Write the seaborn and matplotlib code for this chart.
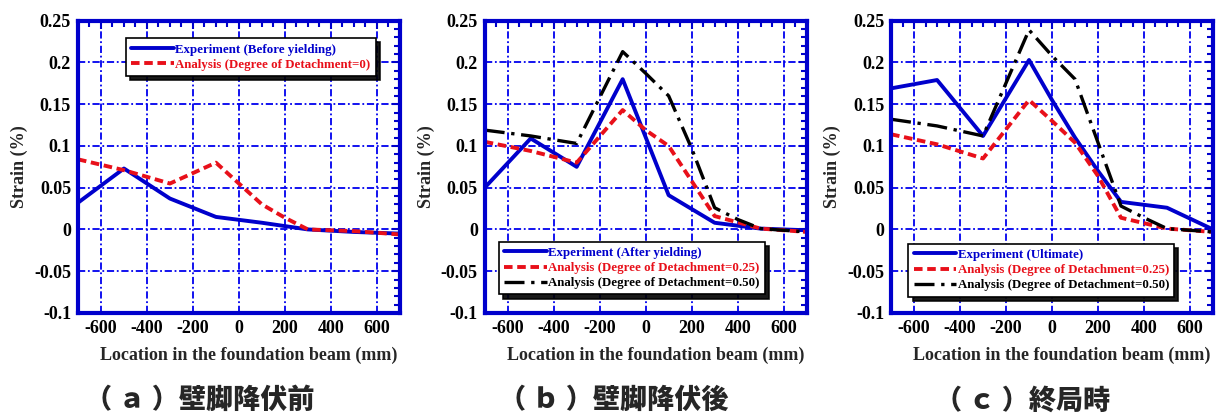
import numpy as np
import pandas as pd
import matplotlib
matplotlib.use("Agg")
import matplotlib.pyplot as plt
from matplotlib.ticker import MultipleLocator
import seaborn as sns

# dados
x_exp = [-700, -500, -300, -100, 100, 300, 500, 700]
x_ana = [-700, -500, -300, -100, 0, 100, 200, 300, 500, 700]
x_ana50 = [-700, -500, -300, -100, 0, 100, 200, 300, 400, 500, 700]

exp_a = [0.032, 0.073, 0.037, 0.015, 0.008, 0.0, -0.003, -0.005]
ana0_a = [0.084, 0.071, 0.055, 0.080, 0.055, 0.030, 0.014, 0.0, -0.002, -0.006]

exp_b = [0.050, 0.109, 0.075, 0.180, 0.041, 0.008, 0.001, -0.001]
ana25_b = [0.105, 0.094, 0.080, 0.143, 0.119, 0.100, 0.058, 0.016, 0.001, -0.003]
ana50_b = [0.119, 0.112, 0.103, 0.213, 0.187, 0.160, 0.097, 0.026, 0.012, 0.001, -0.003]

x_exp_c = [-700, -500, -300, -100, 0, 100, 200, 300, 500, 700]
exp_c = [0.169, 0.179, 0.112, 0.203, 0.155, 0.110, 0.070, 0.033, 0.026, 0.0]
ana25_c = [0.114, 0.102, 0.085, 0.155, 0.130, 0.104, 0.064, 0.014, 0.001, -0.003]
ana50_c = [0.132, 0.124, 0.112, 0.239, 0.208, 0.180, 0.104, 0.028, 0.014, 0.001, -0.003]

legendas_a = ['Experiment (Before yielding)', 'Analysis (Degree of Detachment=0)']
legendas_b = ['Experiment (After yielding)', 'Analysis (Degree of Detachment=0.25)',
              'Analysis (Degree of Detachment=0.50)']
legendas_c = ['Experiment (Ultimate)', 'Analysis (Degree of Detachment=0.25)',
              'Analysis (Degree of Detachment=0.50)']
titulos = ['（ ａ ）壁脚降伏前', '（ ｂ ）壁脚降伏後', '（ ｃ ）終局時']

sns.set_style("white")
plt.rcParams['font.family'] = ['Liberation Serif', 'DejaVu Serif']
plt.rcParams['font.weight'] = 'bold'
plt.rcParams['axes.unicode_minus'] = False

AZUL = '#0000CC'
VERMELHO = '#E8101A'

fig = plt.figure(figsize=(12.24, 4.15), dpi=100)
posicoes = [0.0637, 0.396, 0.728]
eixos = [fig.add_axes([l, 0.246, 0.263, 0.704]) for l in posicoes]

estilos = [
    dict(color=AZUL, linestyle='-', linewidth=2.8),
    dict(color=VERMELHO, linestyle=(0, (2.2, 1.2)), linewidth=2.8),
    dict(color='black', linestyle=(0, (6, 2, 1, 2)), linewidth=2.4),
]

series = [
    [(x_exp, exp_a), (x_ana, ana0_a)],
    [(x_exp, exp_b), (x_ana, ana25_b), (x_ana50, ana50_b)],
    [(x_exp_c, exp_c), (x_ana, ana25_c), (x_ana50, ana50_c)],
]
legendas = [legendas_a, legendas_b, legendas_c]
leg_pos = [('upper right', (0.945, 0.962)), ('lower left', (0.025, 0.041)),
           ('lower left', (0.034, 0.034))]
# centro das legendas inferiores (em pixels)
centros = [200, 614, 1023]

for i, ax in enumerate(eixos):
    for j, (xs, ys) in enumerate(series[i]):
        sns.lineplot(x=xs, y=ys, ax=ax, label=legendas[i][j], **estilos[j])
    ax.set_xlim(-700, 700)
    ax.set_ylim(-0.1, 0.25)
    ax.xaxis.set_major_locator(MultipleLocator(200))
    ax.xaxis.set_minor_locator(MultipleLocator(50))
    ax.yaxis.set_major_locator(MultipleLocator(0.05))
    ax.yaxis.set_minor_locator(MultipleLocator(0.01))
    ax.set_yticks(np.arange(-0.1, 0.26, 0.05))
    ax.set_yticklabels(['-0.1', '-0.05', '0', '0.05', '0.1', '0.15', '0.2', '0.25'])
    ax.grid(True, which='major', color='#0000EE', linestyle=(0, (4, 1.5, 1, 1.5)), linewidth=1.3)
    ax.tick_params(which='both', direction='in', top=True, right=True, colors=AZUL,
                   labelcolor='black', labelsize=13, pad=5)
    ax.tick_params(which='major', length=6, width=1.5)
    ax.tick_params(which='minor', length=4, width=1.5)
    for lab in ax.get_xticklabels() + ax.get_yticklabels():
        lab.set_fontweight('bold')
    for s in ax.spines.values():
        s.set_color(AZUL)
        s.set_linewidth(3)
        s.set_visible(True)
    ax.set_xlabel('Location in the foundation beam (mm)', fontsize=13, fontweight='bold')
    ax.set_ylabel('Strain (%)', fontsize=13, fontweight='bold')
    ax.xaxis.set_label_coords(0.53, -0.115)
    ax.yaxis.set_label_coords(-0.155, 0.5)

    loc, anc = leg_pos[i]
    leg = ax.legend(loc=loc, bbox_to_anchor=anc, frameon=True, fancybox=False,
                    shadow={'color': 'black', 'alpha': 0.9, 'ox': 3, 'oy': -3},
                    handlelength=3.3, handletextpad=0.1, borderpad=0.4, labelspacing=0.25,
                    prop={'weight': 'bold', 'size': 9.3})
    leg.get_frame().set_edgecolor('black')
    leg.get_frame().set_linewidth(1.2)
    for txt, st in zip(leg.get_texts(), estilos):
        txt.set_color(st['color'])

    fig.text(centros[i] / 1224, 0.036, titulos[i],
             ha='center', va='center', fontsize=19.5, fontweight='heavy',
             family=['Noto Sans CJK JP', 'DejaVu Sans'])

fig.savefig('out.png', dpi=100)
